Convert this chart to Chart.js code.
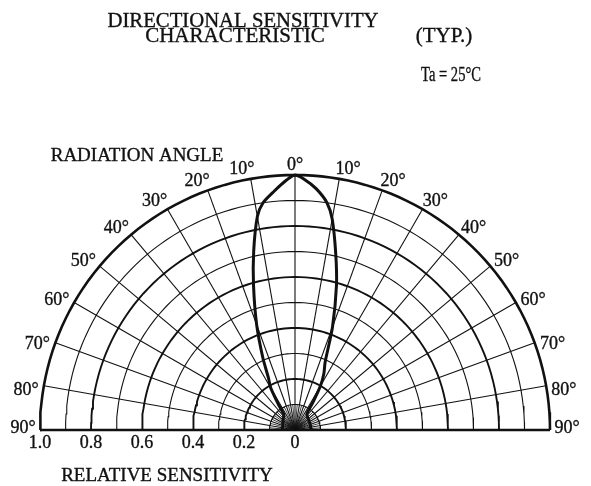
<!DOCTYPE html>
<html>
<head>
<meta charset="utf-8">
<script src="https://cdn.jsdelivr.net/npm/chart.js@4.4.0/dist/chart.umd.min.js"></script>
<style>
  body { margin: 0; background: #fff; }
  #wrap { width: 591px; height: 486px; }
</style>
</head>
<body>
<div id="wrap"><canvas id="chart" width="591" height="486"></canvas></div>
<script>
// radiation angle (deg, 0 = on axis, negative = left) and relative sensitivity
const angles = [-90, -75, -60, -45, -36, -33, -30, -27, -24, -20, -16, -13, -10, -8, -5, -2, 0,
                2, 5, 8, 10, 13, 16, 20, 24, 27, 30, 33, 36, 45, 60, 75, 90];
const sensitivity = [0.05, 0.05, 0.055, 0.065, 0.075, 0.12, 0.19, 0.23, 0.31, 0.44, 0.59, 0.72, 0.85, 0.90, 0.94, 0.98, 1.0,
                     0.985, 0.95, 0.90, 0.84, 0.71, 0.59, 0.43, 0.29, 0.25, 0.20, 0.13, 0.08, 0.07, 0.065, 0.063, 0.063];

const ringValues = [0.1, 0.2, 0.3, 0.4, 0.5, 0.6, 0.7, 0.8, 0.9, 1.0];
const spokeAngles = [-80, -70, -60, -50, -40, -30, -20, -10, 0, 10, 20, 30, 40, 50, 60, 70, 80];
const fineSpokeAngles = [-85, -75, -65, -55, -45, -35, -25, -15, -5, 5, 15, 25, 35, 45, 55, 65, 75, 85];
const angleLabels = [90, 80, 70, 60, 50, 40, 30, 20, 10, 0, 10, 20, 30, 40, 50, 60, 70, 80, 90];
const sensLabels = ['1.0', '0.8', '0.6', '0.4', '0.2', '0'];
const sensTicks = [-1.0, -0.8, -0.6, -0.4, -0.2, 0];

const ink = '#111';
const serif = '"Liberation Serif", "DejaVu Serif", serif';

function polar(deg, r) {
  let a = deg * Math.PI / 180;
  return { x: r * Math.sin(a), y: r * Math.cos(a) };
}

let datasets = [];

// rings
ringValues.forEach(function (r) {
  let pts = [];
  for (let a = -90; a <= 90; a += 2) pts.push(polar(a, r));
  let even = Math.round(r * 10) % 2 == 0;
  datasets.push({ data: pts, borderColor: ink, borderWidth: r == 1 ? 2.6 : (even ? 1.9 : 1.1), pointRadius: 0, showLine: true, clip: false });
});

// spokes
spokeAngles.forEach(function (a) {
  datasets.push({ data: [polar(a, 0), polar(a, 1)], borderColor: ink, borderWidth: 1.1, pointRadius: 0, showLine: true, clip: false });
});
fineSpokeAngles.forEach(function (a) {
  datasets.push({ data: [polar(a, 0), polar(a, 0.1)], borderColor: ink, borderWidth: 0.8, pointRadius: 0, showLine: true, clip: false });
});

// base line
datasets.push({ data: [{ x: -1, y: 0 }, { x: 1, y: 0 }], borderColor: ink, borderWidth: 2.6, pointRadius: 0, showLine: true, clip: false });

// characteristic curve
datasets.push({
  data: angles.map(function (a, i) { return polar(a, sensitivity[i]); }),
  borderColor: ink, borderWidth: 3, pointRadius: 0, showLine: true, tension: 0.25, clip: false
});

function txt(ctx, s, x, y, maxW) {
  ctx.fillText(s, x, y, maxW);
  ctx.strokeText(s, x, y, maxW);
}

const labelsPlugin = {
  id: 'labels',
  afterDraw: function (chart) {
    let ctx = chart.ctx;
    let xs = chart.scales.x, ys = chart.scales.y;
    let unit = xs.getPixelForValue(1) - xs.getPixelForValue(0);
    ctx.save();
    ctx.fillStyle = ink;
    ctx.strokeStyle = ink;
    ctx.lineWidth = 0.35;
    ctx.textAlign = 'center';
    ctx.textBaseline = 'middle';

    // angle labels round the rim
    ctx.font = '18px ' + serif;
    angleLabels.forEach(function (v, i) {
      let a = (i < 9 ? -v : v);
      let s = Math.sign(a);
      let shifted = Math.abs(a) >= 90 ? a : a + s * 1.5;
      let rr = (265 + 7 * Math.abs(Math.sin(a * Math.PI / 180))) / unit;
      let p = polar(shifted, rr);
      let py = ys.getPixelForValue(p.y);
      if (v == 90) py -= 2;
      txt(ctx, v + '°', xs.getPixelForValue(p.x), py, 26);
    });

    // relative sensitivity ticks
    sensTicks.forEach(function (t, i) {
      txt(ctx, sensLabels[i], xs.getPixelForValue(t), ys.getPixelForValue(0) + 13, 23);
    });

    ctx.font = '19px ' + serif;
    txt(ctx, 'RADIATION ANGLE', 137, 156, 174);
    txt(ctx, 'RELATIVE SENSITIVITY', 167, 476, 213);

    ctx.font = '21px ' + serif;
    txt(ctx, 'DIRECTIONAL SENSITIVITY', 243, 21, 271);
    txt(ctx, 'CHARACTERISTIC', 235, 36, 200);
    txt(ctx, '(TYP.)', 444, 36, 58);
    ctx.font = '20px ' + serif;
    txt(ctx, 'Ta = 25°C', 451, 76, 60);
    ctx.restore();
  }
};

new Chart(document.getElementById('chart'), {
  type: 'scatter',
  data: { datasets: datasets },
  options: {
    responsive: false,
    animation: false,
    events: [],
    layout: { padding: { left: 40, right: 41, top: 175, bottom: 56 } },
    plugins: { legend: { display: false }, tooltip: { enabled: false } },
    scales: {
      x: { type: 'linear', min: -1, max: 1, display: false },
      y: { type: 'linear', min: 0, max: 1, display: false }
    }
  },
  plugins: [labelsPlugin]
});
</script>
</body>
</html>
